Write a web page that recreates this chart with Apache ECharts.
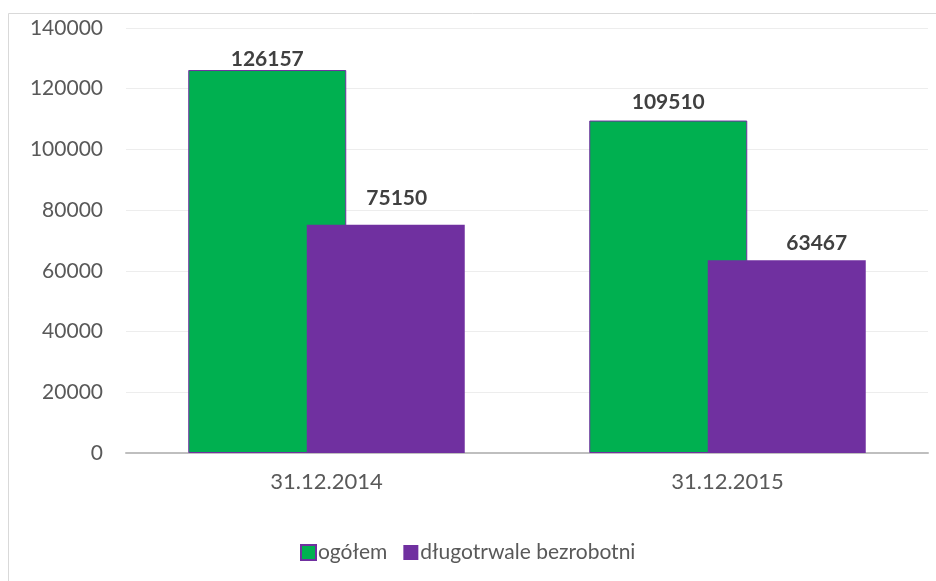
<!DOCTYPE html>
<html lang="pl">
<head>
    <meta charset="UTF-8">
    <title>Bezrobotni</title>
    <script src="https://cdn.jsdelivr.net/npm/echarts@6/dist/echarts.min.js"></script>
    <style>
        html, body { margin: 0; padding: 0; background: #fff; }
        #chart { width: 936px; height: 581px; }
    </style>
</head>
<body>
<div id="chart"></div>
<script type="text/javascript">
    // dane
    var categories = ['31.12.2014', '31.12.2015'];
    var ogolem = [126157, 109510];
    var dlugotrwale = [75150, 63467];

    var font = 'Lato';
    var chart = echarts.init(document.getElementById('chart'));

    var labelStyle = {
        show: true,
        position: 'top',
        color: '#404040',
        fontFamily: font,
        fontWeight: 'bold',
        fontSize: 21
    };

    // etykiety w oryginale przesunięte ręcznie: [odległość, przesunięcie w poziomie]
    function withLabels(values, placement) {
        return values.map(function (v, i) {
            return {
                value: v,
                label: { distance: placement[i][0], offset: [placement[i][1], 0] }
            };
        });
    }

    var option = {
        animation: false,
        backgroundColor: '#fff',
        graphic: [{
            type: 'rect',
            shape: { x: 8.5, y: 13.5, width: 1000, height: 1000 },
            style: { fill: 'none', stroke: '#D9D9D9', lineWidth: 1 },
            silent: true
        }],
        grid: { left: 126, right: 8, top: 28, bottom: 128, containLabel: false },
        legend: {
            left: 295,
            top: 537,
            icon: 'rect',
            itemWidth: 15,
            itemHeight: 15,
            itemGap: 16,
            textStyle: { color: '#595959', fontFamily: font, fontSize: 21, padding: [0, 0, 0, -3] },
            data: ['ogółem', 'długotrwale bezrobotni']
        },
        xAxis: {
            type: 'category',
            data: categories,
            axisLine: { lineStyle: { color: '#BFBFBF', width: 2 } },
            axisTick: { show: false },
            axisLabel: { color: '#595959', fontFamily: font, fontSize: 22, margin: 18 }
        },
        yAxis: {
            type: 'value',
            min: 0,
            max: 140000,
            interval: 20000,
            axisLine: { show: false },
            axisTick: { show: false },
            splitLine: { lineStyle: { color: '#EDEDED', width: 1 } },
            axisLabel: {
                color: '#595959', fontFamily: font, fontSize: 21, margin: 23,
                formatter: function (v) { return String(v); }
            }
        },
        series: [
            {
                name: 'ogółem',
                type: 'bar',
                data: withLabels(ogolem, [[0, 0], [8, 0]]),
                barWidth: 158,
                barGap: '-25%',
                itemStyle: { color: '#00B050', borderColor: '#7030A0', borderWidth: 1 },
                label: labelStyle
            },
            {
                name: 'długotrwale bezrobotni',
                type: 'bar',
                data: withLabels(dlugotrwale, [[16, 11], [7, 30]]),
                barWidth: 158,
                itemStyle: { color: '#7030A0' },
                label: labelStyle
            }
        ]
    };

    chart.setOption(option);
</script>
</body>
</html>
